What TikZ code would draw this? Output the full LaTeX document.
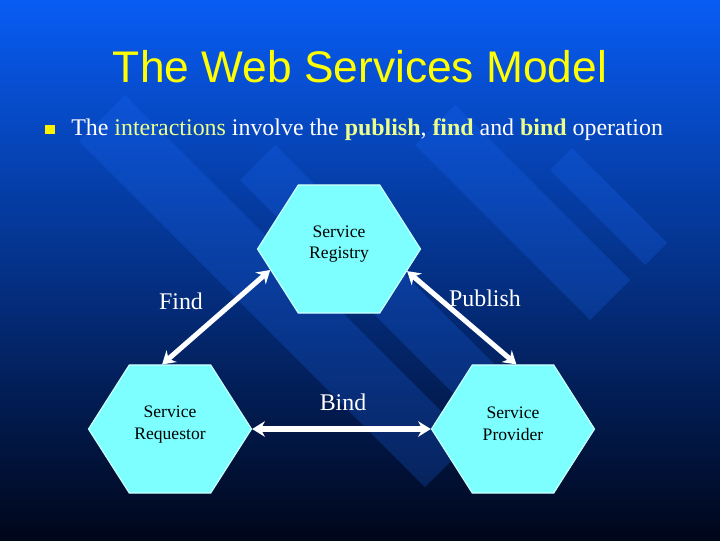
\documentclass[tikz,border=0pt]{standalone}
\usepackage{fontspec}
\setmainfont{Liberation Serif}
\newfontfamily\titlefont{Liberation Sans}
\usetikzlibrary{arrows.meta, shapes.symbols, positioning}
\definecolor{slideblue}{RGB}{8, 92, 244}
\definecolor{slidemid}{RGB}{0, 44, 140}
\definecolor{slidedark}{RGB}{0, 6, 26}
\definecolor{stripeblue}{RGB}{30, 110, 255}
\definecolor{hexcyan}{RGB}{125, 255, 255}
\definecolor{hexedge}{RGB}{205, 255, 255}
\definecolor{titleyellow}{RGB}{255, 255, 0}
\definecolor{wordyellow}{RGB}{235, 255, 140}
\newcommand{\opword}[1]{\textcolor{wordyellow}{#1}}

\begin{document}
\begin{tikzpicture}[x=0.025cm, y=-0.025cm,
    hexa/.style={shape=signal, signal to=east and west, signal pointer angle=115,
      fill=hexcyan, draw=hexedge, line width=0.8pt,
      minimum width=4.075cm, minimum height=3.2cm, inner sep=0pt},
    hextext/.style={align=center, text=black, yshift=3.5pt,
      font=\fontsize{12.5}{15.6}\selectfont},
    oplabel/.style={text=white, anchor=base, font=\fontsize{17}{20}\selectfont},
    twoway/.style={draw=white, line width=3.6pt,
      {Stealth[length=9pt,width=11pt]}-{Stealth[length=9pt,width=11pt]}},
    stripe/.style={fill=stripeblue, opacity=0.22}]
        % background and stripes
        \shade[top color=slideblue, middle color=slidemid, bottom color=slidedark] (0,0) rectangle (720,540);
        \fill[stripe] (79,141) -- (125,95) -- (471,441) -- (425,487) -- cycle;
        \fill[stripe] (240,180) -- (275,145) -- (505,375) -- (470,410) -- cycle;
        \fill[stripe] (415,145) -- (455,105) -- (630,280) -- (590,320) -- cycle;
        \fill[stripe] (550,170) -- (572,148) -- (667,243) -- (645,265) -- cycle;

        % heading
        \node[text=titleyellow, anchor=base, font=\titlefont\fontsize{31.5}{36}\selectfont] (title) at (360,82) {The Web Services Model};
        \node[fill=yellow, minimum size=0.225cm, inner sep=0pt] (bullet) at (50,129) {};
        \node[anchor=base west, inner sep=0pt, text=white, font=\fontsize{17}{20}\selectfont] (intro) at (71,135)
            {The \opword{interactions} involve the \opword{\textbf{publish}}, \opword{\textbf{find}} and \opword{\textbf{bind}} operation};

        % the three roles
        \node[hexa, label={[hextext]center:Service\\Registry}] (registry) at (339,249) {};
        \node[hexa, label={[hextext]center:Service\\Requestor}] (requestor) at (170,429) {};
        \node[hexa, label={[hextext]center:Service\\Provider}] (provider) at (513,429) {};

        % operations
        \draw[twoway] (requestor.97) -- (registry.197);
        \draw[twoway] (registry.342) -- (provider.87);
        \draw[twoway] (requestor.east) -- (provider.west);
        \node[oplabel] (find) at (181,309) {Find};
        \node[oplabel] (publish) at (485,306) {Publish};
        \node[oplabel] (bind) at (343,410) {Bind};
    \end{tikzpicture}
\end{document}
